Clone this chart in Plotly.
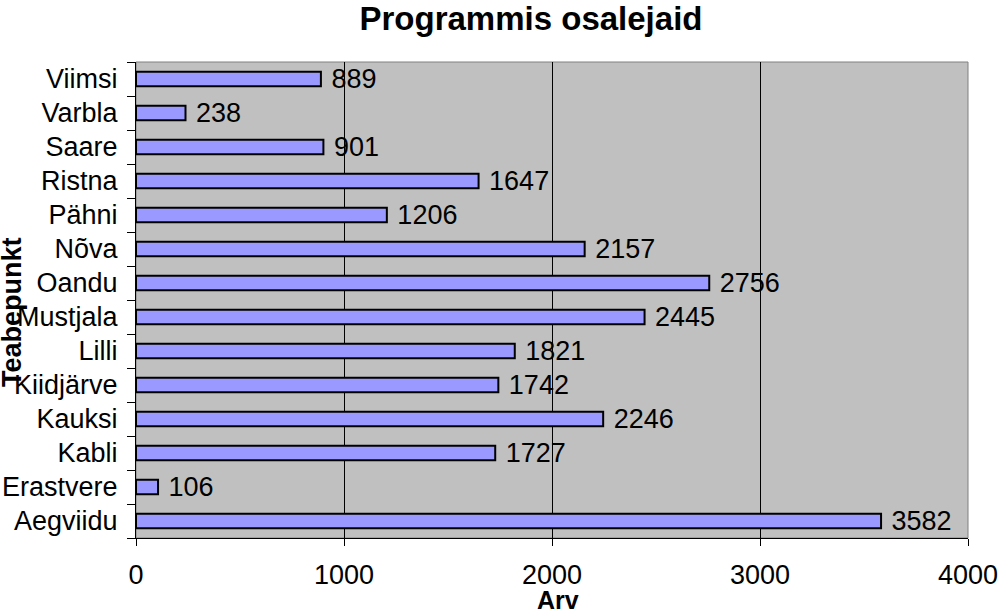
import plotly.graph_objects as go

categories = ["Aegviidu", "Erastvere", "Kabli", "Kauksi", "Kiidjärve", "Lilli", "Mustjala",
              "Oandu", "Nõva", "Pähni", "Ristna", "Saare", "Varbla", "Viimsi"]
values = [3582, 106, 1727, 2246, 1742, 1821, 2445, 2756, 2157, 1206, 1647, 901, 238, 889]
x_ticks = [0, 1000, 2000, 3000, 4000]

FONT = "Liberation Sans, Arial, sans-serif"
FS = 27

fig = go.Figure(go.Bar(
    y=categories, x=values, orientation="h", width=0.42,
    marker=dict(color="#9999FF", line=dict(color="black", width=2)),
    text=["\u00a0" + str(v) for v in values], textposition="outside",
    constraintext="none",
    textfont=dict(size=FS, color="black", family=FONT),
    cliponaxis=False,
))

W, H = 998, 609
L, R, T, B = 136, 30, 62, 71
PW, PH = W - L - R, H - T - B

fig.update_layout(
    width=W, height=H,
    margin=dict(l=L, r=R, t=T, b=B, autoexpand=False),
    paper_bgcolor="white", plot_bgcolor="#C0C0C0",
    font=dict(family=FONT, size=FS, color="black"),
    title=dict(text="<b>Programmis osalejaid</b>", x=531/W, xanchor="center",
               y=1-18/H, yanchor="middle", font=dict(size=33, family=FONT),
               automargin=False),
    showlegend=False,
    shapes=[dict(type="rect", xref="paper", yref="paper", x0=0, x1=1, y0=0, y1=1,
                 line=dict(color="#808080", width=1), layer="below")],
    annotations=[
        dict(text="<b>Arv</b>", xref="paper", yref="paper", x=(558-L)/PW, y=-(600-(H-B))/PH,
             xanchor="center", yanchor="middle", showarrow=False, font=dict(size=25)),
        dict(text="<b>Teabepunkt</b>", xref="paper", yref="paper", x=-(L-12)/PW, y=1-(312-T)/PH,
             xanchor="center", yanchor="middle", textangle=-90, showarrow=False,
             font=dict(size=27)),
    ],
)
fig.update_xaxes(
    range=[0, 4000], tickvals=x_ticks, ticktext=[str(t) for t in x_ticks],
    showgrid=True, gridcolor="black", gridwidth=1, zeroline=False,
    showline=True, linecolor="black", linewidth=1,
    ticks="outside", ticklen=7, tickcolor="black", ticklabelstandoff=6,
    ticklabeloverflow="allow",
    tickfont=dict(size=FS), fixedrange=True, automargin=False,
)
fig.update_yaxes(
    categoryorder="array", categoryarray=categories,
    showline=True, linecolor="black", linewidth=1,
    ticks="outside", ticklen=8, tickcolor="black", tickson="boundaries",
    ticklabelstandoff=12, automargin=False,
    showgrid=False, tickfont=dict(size=FS),
)
fig.write_html("out.html", config={"displayModeBar": False},
               post_script="document.body.style.margin='0';document.body.style.overflow='hidden';")
